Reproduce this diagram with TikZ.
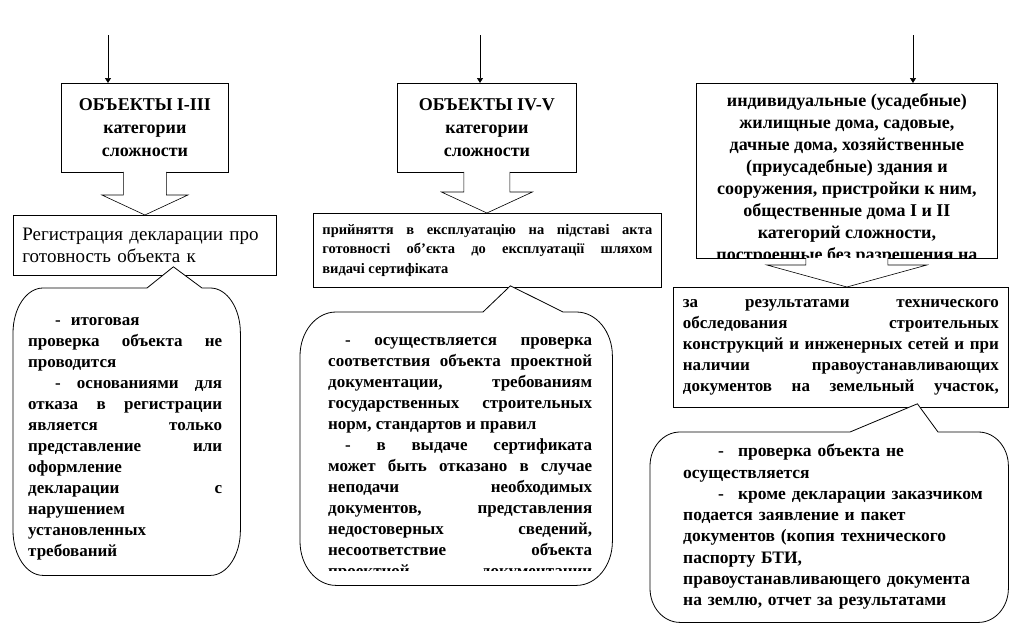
\documentclass[tikz,border=0pt]{standalone}
\usepackage{fontspec}
\setmainfont{Liberation Serif}
\usetikzlibrary{arrows.meta, positioning, calc}
\hyphenpenalty=10000
\exhyphenpenalty=10000

% hollow block arrow from the bottom of #1 to the top of #2
% #3 half width of the shaft, #4 half width of the head, #5 head length
\newcommand{\fatarrow}[5]{%
  \draw[fat] let \p1=(#1.south), \p2=(#2.north) in
    (\x1-#3,\y1+1pt) -- (\x1-#3,\y2+#5) -- (\x1-#4,\y2+#5) -- (\x1,\y2)
    -- (\x1+#4,\y2+#5) -- (\x1+#3,\y2+#5) -- (\x1+#3,\y1+1pt);}

% callout frame round node #1, pointer to #2
% #3, #4 pointer base (from the left side), #5, #6 corner radii
\newcommand{\bubble}[6]{%
  \draw[bubble] ([xshift=#5]#1.north west) -- ([xshift=#3]#1.north west)
    -- (#2) -- ([xshift=#4]#1.north west) -- ([xshift=-#5]#1.north east)
    arc[start angle=90, end angle=0, x radius=#5, y radius=#6]
    -- ([yshift=#6]#1.south east)
    arc[start angle=0, end angle=-90, x radius=#5, y radius=#6]
    -- ([xshift=#5]#1.south west)
    arc[start angle=270, end angle=180, x radius=#5, y radius=#6]
    -- ([yshift=-#6]#1.north west)
    arc[start angle=180, end angle=90, x radius=#5, y radius=#6] -- cycle;}

\tikzset{
  box/.style={rectangle, draw, fill=white, line width=0.8pt,
    inner sep=0pt, anchor=north west},
  ttl/.style={box, align=center, font=\fontsize{18}{23}\selectfont\bfseries},
  frame/.style={rectangle, inner sep=0pt, anchor=north west},
  txt/.style={inner sep=0pt, anchor=north west, align=justify,
    font=\fontsize{17}{21}\selectfont\bfseries},
  arr/.style={-{Triangle[length=5pt,width=6pt]}, line width=0.7pt},
  fat/.style={draw, fill=white, line width=0.6pt},
  bubble/.style={draw, fill=white, line width=0.8pt}
}

\begin{document}
\begin{tikzpicture}[x=1pt, y=1pt]
  \useasboundingbox (0,0) rectangle (1011,-627);

  % --- objects I-III
  \coordinate (in1) at (108,-35);
  \node[ttl, minimum width=167pt, minimum height=89pt] (obj1) at (61,-83)
        {ОБЪЕКТЫ I-III\\категории\\сложности};
  \draw[arr] (in1) -- (in1 |- obj1.north);

  \node[box, minimum width=263pt, minimum height=60pt, inner xsep=9pt,
        text width=245pt, align=left, font=\fontsize{19}{22}\selectfont] (reg) at (13,-215)
        {Регистрация декларации про\\готовность объекта к};
  \fatarrow{obj1}{reg}{21.5pt}{43pt}{20pt}

  % --- objects IV-V
  \coordinate (in2) at (480,-35);
  \node[ttl, minimum width=179pt, minimum height=89pt] (obj2) at (397,-83)
        {ОБЪЕКТЫ IV-V\\категории\\сложности};
  \draw[arr] (in2) -- (in2 |- obj2.north);

  \node[box, minimum width=348pt, minimum height=74pt, inner xsep=9pt,
        text width=330pt, align=justify,
        font=\fontsize{14.5}{19.5}\selectfont\bfseries] (act) at (313,-213)
        {прийняття в експлуатацію на підставі акта\linebreak
         готовності об’єкта до експлуатації шляхом\linebreak
         видачі сертифіката};
  \fatarrow{obj2}{act}{23pt}{45.5pt}{21pt}

  % --- private houses
  \coordinate (in3) at (913,-35);
  \node[box, minimum width=301pt, minimum height=175pt] (ind) at (696,-83) {};
  \draw[arr] (in3) -- (in3 |- ind.north);
  \begin{scope}
    \clip (ind.south west) rectangle (ind.north east);
    \node[align=center, inner sep=0pt, anchor=north,
          font=\fontsize{18}{22}\selectfont\bfseries] (indtxt)
          at ([yshift=-10pt]ind.north)
          {индивидуальные (усадебные)\\жилищные дома, садовые,\\
           дачные дома, хозяйственные\\(приусадебные) здания и\\
           сооружения, пристройки к ним,\\общественные дома I и II\\
           категорий сложности,\\построенные без разрешения на};
  \end{scope}

  \node[box, minimum width=335pt, minimum height=120pt, inner xsep=9.5pt,
        text width=316pt, align=justify,
        font=\fontsize{17}{21}\selectfont\bfseries] (res) at (673,-287)
        {\parfillskip=0pt
         за результатами технического\linebreak
         обследования строительных\linebreak
         конструкций и инженерных сетей и при\linebreak
         наличии правоустанавливающих\linebreak
         документов на земельный участок,\par};
  \fatarrow{ind}{res}{41pt}{80pt}{22pt}

  % --- callouts
  \node[frame, minimum width=227pt, minimum height=287pt] (bub1) at (13,-288) {};
  \coordinate (tip1) at ($(reg.south)+(28.5,9)$);
  \bubble{bub1}{tip1}{134pt}{189pt}{30pt}{45pt}
  \node[txt, text width=194pt] (t1) at ([xshift=15pt,yshift=-29pt]bub1.north west)
        {\hspace*{27pt}-\hspace{10pt}итоговая\newline
         проверка объекта не\linebreak
         проводится\newline
         \hspace*{27pt}- основаниями для\linebreak
         отказа в регистрации\linebreak
         является только\linebreak
         представление или\linebreak
         оформление\linebreak
         декларации с\linebreak
         нарушением\linebreak
         установленных\linebreak
         требований};

  \node[frame, minimum width=312pt, minimum height=273pt] (bub2) at (300,-312) {};
  \coordinate (tip2) at ($(act.south)+(23,2)$);
  \bubble{bub2}{tip2}{183pt}{263pt}{36pt}{44pt}
  \begin{scope}
    \clip (bub2.north west) rectangle ([yshift=15pt]bub2.south east);
    \node[txt, text width=264pt] (t2) at ([xshift=28pt,yshift=-25pt]bub2.north west)
          {\parfillskip=0pt
           \hspace*{17pt}- осуществляется проверка\linebreak
           соответствия объекта проектной\linebreak
           документации, требованиям\linebreak
           государственных строительных\linebreak
           норм, стандартов и правил\newline
           \hspace*{17pt}- в выдаче сертификата\linebreak
           может быть отказано в случае\linebreak
           неподачи необходимых\linebreak
           документов, представления\linebreak
           недостоверных сведений,\linebreak
           несоответствие объекта\linebreak
           проектной документации\par};
  \end{scope}

  \node[frame, minimum width=358pt, minimum height=190pt] (bub3) at (650,-432) {};
  \coordinate (tip3) at ($(res.south)+(76.5,4)$);
  \bubble{bub3}{tip3}{200pt}{288pt}{30pt}{34pt}
  \node[txt, text width=320pt, align=left, font=\fontsize{17.5}{21.3}\selectfont\bfseries]
        (t3) at ([xshift=33pt,yshift=-12pt]bub3.north west)
        {\hspace*{35pt}-\hspace*{14pt}проверка объекта не\\
         осуществляется\\
         \hspace*{35pt}-\hspace*{14pt}кроме декларации заказчиком\\
         подается заявление и пакет\\
         документов (копия технического\\
         паспорту БТИ,\\
         правоустанавливающего документа\\
         на землю, отчет за результатами};

\end{tikzpicture}
\end{document}
